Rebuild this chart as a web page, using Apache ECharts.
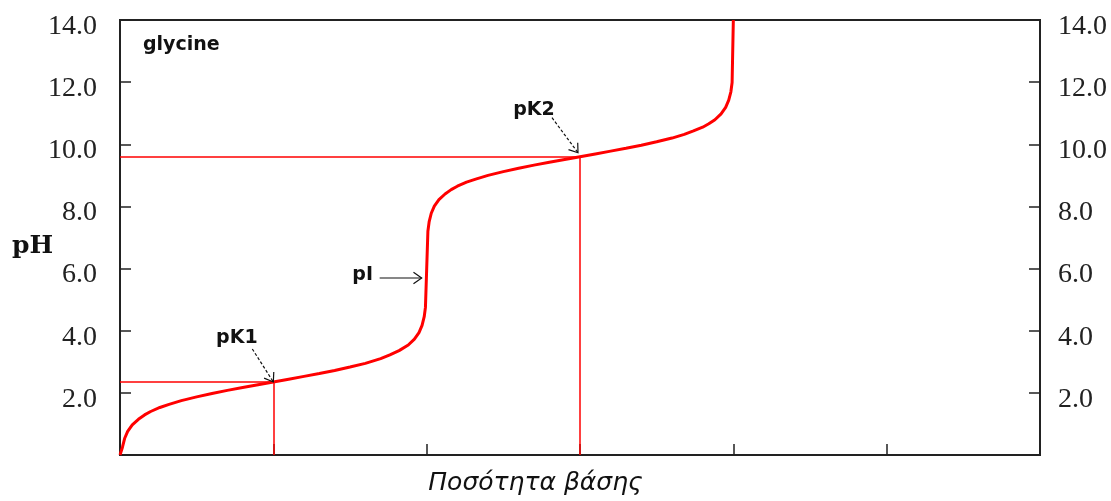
<!DOCTYPE html>
<html>
<head>
<meta charset="utf-8">
<script src="https://cdn.jsdelivr.net/npm/echarts@6/dist/echarts.min.js"></script>
<style>
html,body{margin:0;padding:0;background:#fff;}
#chart{width:1111px;height:501px;}
</style>
</head>
<body>
<div id="chart"></div>
<script>
// Amount of base added (equivalents) and pH
const eqValues = [0, 0.004, 0.008, 0.015, 0.025, 0.04, 0.06, 0.08, 0.10, 0.13, 0.16, 0.20, 0.25, 0.30, 0.35, 0.40, 0.45, 0.50, 0.55, 0.60, 0.65, 0.70, 0.75, 0.80, 0.85, 0.88, 0.91, 0.94, 0.96, 0.975, 0.985, 0.992, 0.996, 1.000, 1.004, 1.008, 1.015, 1.025, 1.04, 1.06, 1.08, 1.10, 1.13, 1.16, 1.20, 1.25, 1.30, 1.35, 1.40, 1.45, 1.50, 1.55, 1.60, 1.65, 1.70, 1.75, 1.80, 1.84, 1.87, 1.90, 1.92, 1.94, 1.96, 1.975, 1.985, 1.992, 1.996, 2.000];
const phValues = [0.00, 0.05, 0.25, 0.53, 0.76, 0.97, 1.15, 1.29, 1.40, 1.53, 1.63, 1.75, 1.87, 1.98, 2.08, 2.17, 2.26, 2.35, 2.44, 2.53, 2.62, 2.72, 2.83, 2.95, 3.10, 3.22, 3.36, 3.54, 3.73, 3.94, 4.17, 4.45, 4.75, 5.97, 7.20, 7.50, 7.78, 8.01, 8.22, 8.40, 8.54, 8.65, 8.78, 8.88, 9.00, 9.12, 9.23, 9.33, 9.42, 9.51, 9.60, 9.69, 9.78, 9.87, 9.97, 10.08, 10.20, 10.32, 10.43, 10.55, 10.66, 10.79, 10.98, 11.19, 11.42, 11.69, 11.99, 14.00];

// Marked points
const markerNames = ['pK1', 'pI', 'pK2'];
const markerEq = [0.5, 1.0, 1.5];
const markerPH = [2.35, 5.97, 9.60];
// Which markers get guide lines to the axes
const guideMarkers = ['pK1', 'pK2'];

const chartTitle = 'glycine';
const xAxisTitle = 'Ποσότητα βάσης';
const yAxisTitle = 'pH';

const chart = echarts.init(document.getElementById('chart'), null, {renderer: 'canvas'});

const seriesData = eqValues.map((x, i) => [x, phValues[i]]);

const guideLines = [];
guideMarkers.forEach(name => {
  const i = markerNames.indexOf(name);
  guideLines.push([{coord: [0, markerPH[i]]}, {coord: [markerEq[i], markerPH[i]]}]);
  guideLines.push([{coord: [markerEq[i], markerPH[i]]}, {coord: [markerEq[i], 0]}]);
});

const yLabelStyle = {
  fontFamily: '"Liberation Serif", serif',
  fontSize: 28,
  color: '#222',
  verticalAlign: 'top',
  lineHeight: 13,
  formatter: v => (v === 0 ? '' : v.toFixed(1))
};

const axisCommon = {
  type: 'value',
  min: 0,
  max: 14,
  interval: 2,
  axisLine: {show: true, lineStyle: {color: '#222', width: 2}},
  axisTick: {show: true, inside: true, length: 11, lineStyle: {color: '#222', width: 1.5}},
  splitLine: {show: false}
};

chart.setOption({
  animation: false,
  backgroundColor: '#fff',
  grid: {left: 120, right: 71, top: 20, bottom: 46, show: true, borderColor: '#222', borderWidth: 2},
  xAxis: {
    type: 'value',
    min: 0,
    max: 3,
    interval: 0.5,
    axisLine: {show: true, lineStyle: {color: '#222', width: 2}},
    axisTick: {show: true, inside: true, length: 11, lineStyle: {color: '#222', width: 1.5}},
    axisLabel: {show: false},
    splitLine: {show: false}
  },
  yAxis: [
    Object.assign({}, axisCommon, {position: 'left', axisLabel: Object.assign({}, yLabelStyle, {margin: 23})}),
    Object.assign({}, axisCommon, {position: 'right', axisLabel: Object.assign({}, yLabelStyle, {margin: 18})})
  ],
  series: [{
    type: 'line',
    data: seriesData,
    showSymbol: false,
    smooth: false,
    z: 5,
    lineStyle: {color: '#ff0000', width: 3},
    markLine: {
      silent: true,
      symbol: ['none', 'none'],
      label: {show: false},
      lineStyle: {color: '#ff0000', width: 1.5, type: 'solid'},
      data: guideLines
    }
  }]
});

function arrow(tail, tip, dashed, h, angDeg) {
  const dx = tip[0] - tail[0], dy = tip[1] - tail[1];
  const L = Math.hypot(dx, dy);
  const ux = dx / L, uy = dy / L;
  const a = angDeg * Math.PI / 180;
  const ca = Math.cos(a), sa = Math.sin(a);
  const p1 = [tip[0] - h * (ux * ca - uy * sa), tip[1] - h * (uy * ca + ux * sa)];
  const p2 = [tip[0] - h * (ux * ca + uy * sa), tip[1] - h * (uy * ca - ux * sa)];
  return [
    {type: 'line', z: 20, shape: {x1: tail[0], y1: tail[1], x2: tip[0], y2: tip[1]},
     style: {stroke: '#111', lineWidth: 1.2, lineDash: dashed ? [3, 2] : null}},
    {type: 'polyline', z: 20, shape: {points: [p1, tip, p2]},
     style: {stroke: '#111', lineWidth: 1.2, fill: null}}
  ];
}

// label/arrow placement relative to each marked point (pixels)
const annLayout = {
  pK1: {text: [-36.5, -44], tail: [-21, -33], tip: [0, 0], dashed: true},
  pI:  {text: [-64, 5.5], tail: [-47, 8.5], tip: [-5, 8.5], dashed: false},
  pK2: {text: [-46, -46.5], tail: [-28, -39], tip: [-2, -4], dashed: true}
};

const graphics = [];
markerNames.forEach((name, i) => {
  const p = chart.convertToPixel({seriesIndex: 0}, [markerEq[i], markerPH[i]]);
  const lay = annLayout[name];
  graphics.push({
    type: 'text', z: 20,
    x: p[0] + lay.text[0], y: p[1] + lay.text[1],
    style: {text: name, font: 'bold 19px "DejaVu Sans", sans-serif', fill: '#111', align: 'center', verticalAlign: 'middle'}
  });
  arrow([p[0] + lay.tail[0], p[1] + lay.tail[1]], [p[0] + lay.tip[0], p[1] + lay.tip[1]], lay.dashed, 10, 35)
    .forEach(g => graphics.push(g));
});

graphics.push({
  type: 'text', z: 20, x: 143, y: 45,
  style: {text: chartTitle, font: 'bold 19px "DejaVu Sans", sans-serif', fill: '#111', align: 'left', verticalAlign: 'middle'}
});
graphics.push({
  type: 'text', z: 20, x: 12, y: 246,
  style: {text: yAxisTitle, font: 'bold 25px "DejaVu Serif", serif', fill: '#111', align: 'left', verticalAlign: 'middle'}
});
graphics.push({
  type: 'text', z: 20, x: 535.5, y: 483,
  style: {text: xAxisTitle, font: 'italic 25px "DejaVu Sans", sans-serif', fill: '#111', align: 'center', verticalAlign: 'middle'}
});

chart.setOption({graphic: graphics});
</script>
</body>
</html>
